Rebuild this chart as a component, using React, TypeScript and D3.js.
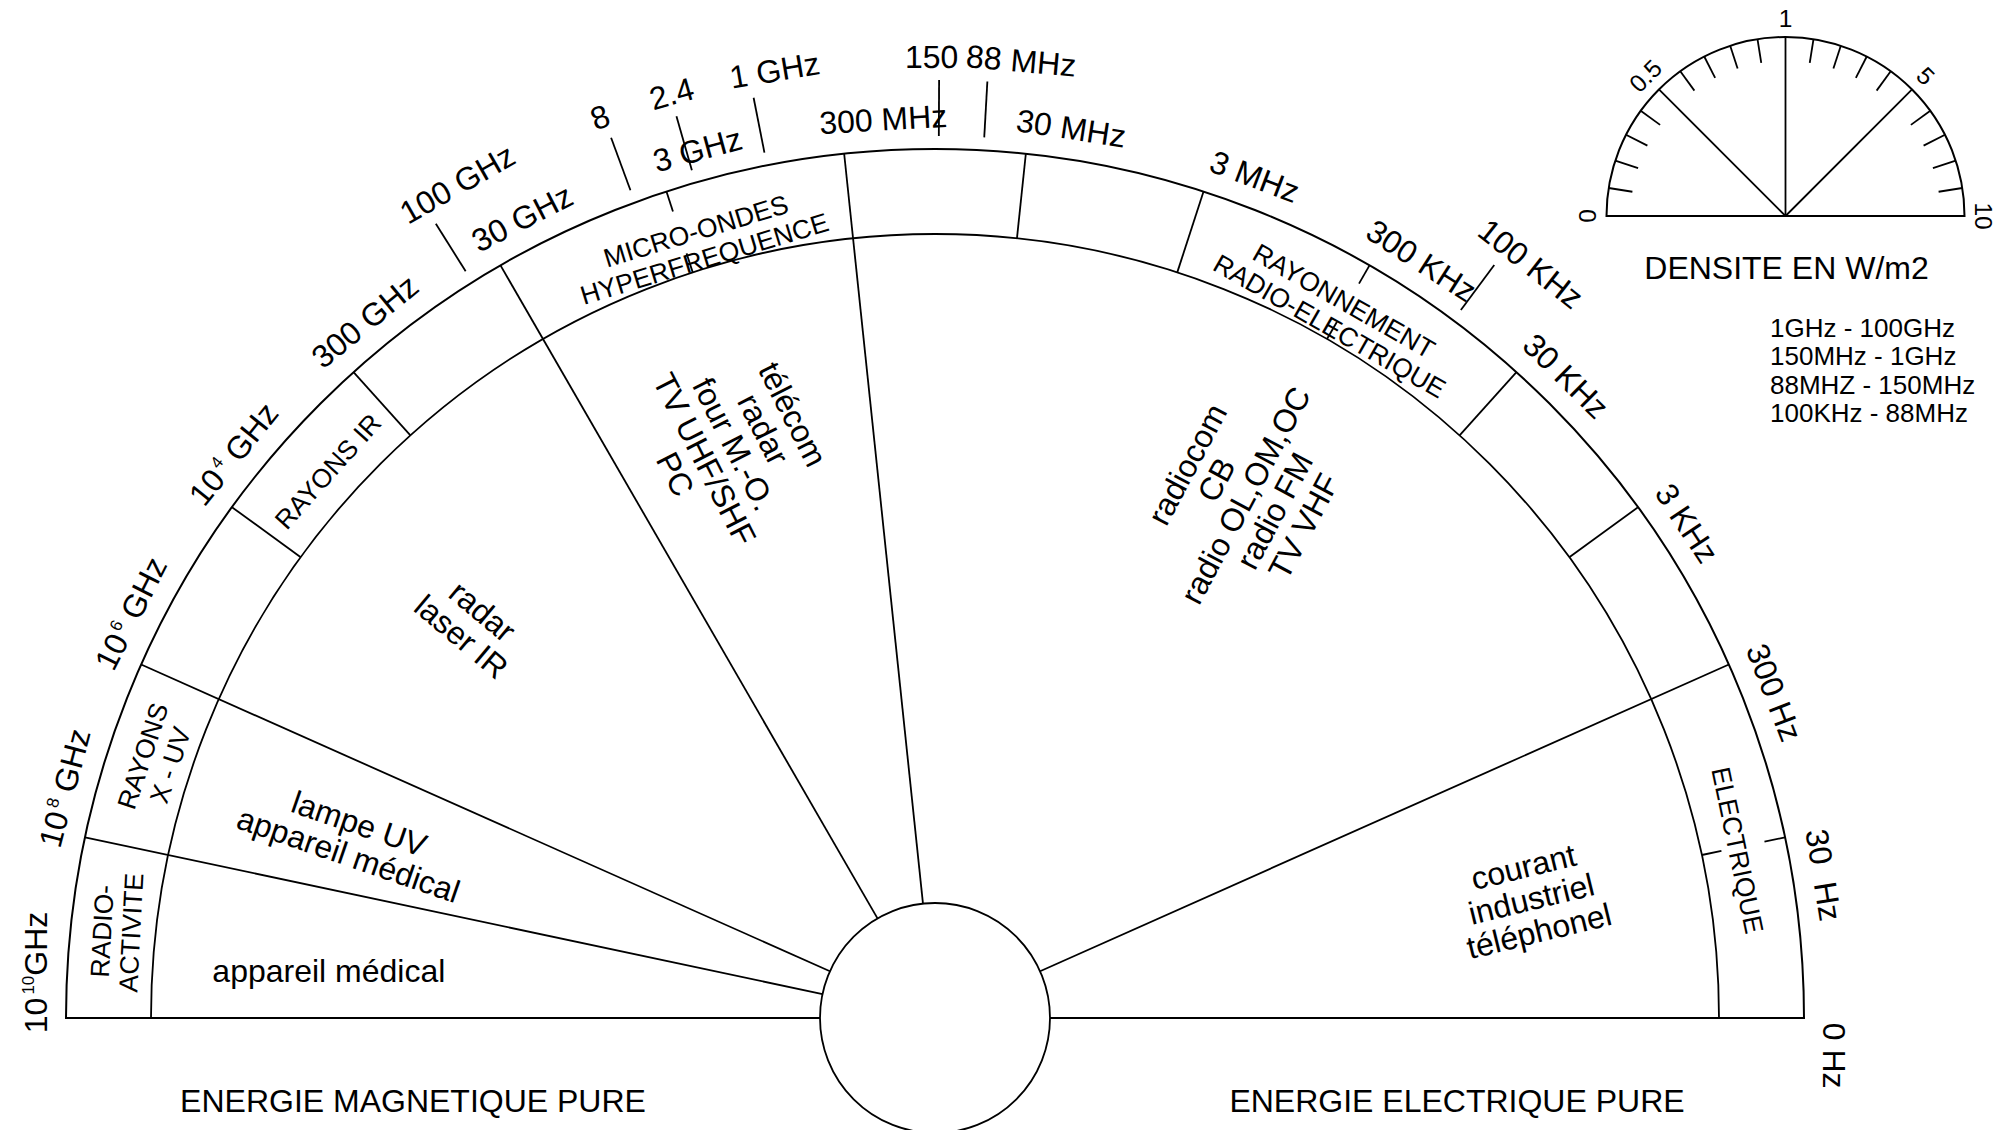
import React from "react";
import * as d3 from "d3";

// the dial runs from 0° (left end, 10^10 GHz) to 180° (right end, 0 Hz)
const stepCount = 15; // one step = 12°
const fullDividers = [1, 2, 5, 7, 13];
const bandDividers = [3, 4, 8, 9, 11, 12];
const bandTicks = [6, 10, 14];

// first row of frequency labels, angle on the dial
const freqLabels = [
	{ base: "10", sup: "10", unit: "GHz", at: 2.9 },
	{ base: "10", sup: "8", unit: " GHz", at: 14.8 },
	{ base: "10", sup: "6", unit: " GHz", at: 26.7 },
	{ base: "10", sup: "4", unit: " GHz", at: 38.8 },
	{ base: "300 GHz", at: 50.7 },
	{ base: "30 GHz", at: 62.7 },
	{ base: "3 GHz", at: 74.7 },
	{ base: "300 MHz", at: 86.7 },
	{ base: "30 MHz", at: 98.7 },
	{ base: "3 MHz", at: 110.8 },
	{ base: "300 KHz", at: 122.7 },
	{ base: "30 KHz", at: 134.5 },
	{ base: "3 KHz", at: 146.65 },
	{ base: "300 Hz", at: 158.8 },
	{ base: "30  Hz", at: 170.85 },
	{ base: "0 Hz", at: 182.4 },
];
const freqTilt: Record<number, number> = { 0: -90, 15: 90 };

// second row, with leader lines
const farLabels = [
	{ text: "100 GHz", at: 60.2, leader: 57.85 },
	{ text: "8", at: 69.6, leader: 69.8 },
	{ text: "2.4", at: 74.1, leader: 74.0 },
	{ text: "1 GHz", at: 80.4, leader: 78.85 },
	{ text: "150", at: 89.8, leader: 90.25 },
	{ text: "88 MHz", at: 95.15, leader: 93.2 },
	{ text: "100 KHz", at: 128.3, leader: 126.6 },
];

const bandLabels = [
	{ lines: ["RADIO-", "ACTIVITE"], at: 6.0 },
	{ lines: ["RAYONS", "X - UV"], at: 18.3 },
	{ lines: ["RAYONS IR"], at: 42.0 },
	{ lines: ["MICRO-ONDES", "HYPERFREQUENCE"], at: 73.1 },
	{ lines: ["RAYONNEMENT", "RADIO-ELECTRIQUE"], at: 119.7 },
	{ lines: ["ELECTRIQUE"], at: 168.2 },
];
const bandLabelR = [823, 820, 817, 808, 811, 820];
const bandTilt: Record<number, number> = { 0: -87 };

const useLabels = [
	{ lines: ["appareil médical"], at: 4.5 },
	{ lines: ["lampe UV", "appareil médical"], at: 17.1 },
	{ lines: ["radar", "laser IR"], at: 40.4 },
	{ lines: ["télécom", "radar", "four M.-O.", "TV UHF/SHF", "PC"], at: 70.7 },
	{ lines: ["radiocom", "CB", "radio OL,OM,OC", "radio FM", "TV VHF"], at: 120.7 },
	{ lines: ["courant", "industriel", "téléphonel"], at: 168.7 },
];
const useTilt = [0, 19, 40, 63, -62, -13.7];

const gaugeLabels = ["0", "0.5", "1", "5", "10"];
const gaugeTicksPerGap = 4;

const bandRanges = [
	"1GHz - 100GHz",
	"150MHz - 1GHz",
	"88MHZ - 150MHz",
	"100KHz - 88MHz",
];

const W = 2008;
const H = 1130;
const cx = 935;
const cy = 1018;
const rOuter = 869;
const rInner = 784;
const rHub = 115;
const font = "'Liberation Sans', Arial, Helvetica, sans-serif";

const angle = d3.scaleLinear().domain([0, 180]).range([-Math.PI / 2, Math.PI / 2]);
const step = d3.scaleLinear().domain([0, stepCount]).range([0, 180]);
const deg = (a: number) => (a * 180) / Math.PI;

const half = (r: number) =>
	d3.arc()({
		innerRadius: 0,
		outerRadius: r,
		startAngle: -Math.PI / 2,
		endAngle: Math.PI / 2,
	}) as string;

const Radial = ({ t, r0, r1, sw = 1.8 }: { t: number; r0: number; r1: number; sw?: number }) => {
	const [x1, y1] = d3.pointRadial(angle(t), r0);
	const [x2, y2] = d3.pointRadial(angle(t), r1);
	return <line x1={x1} y1={y1} x2={x2} y2={y2} stroke="#000" strokeWidth={sw} />;
};

const Block = ({
	x,
	y,
	rot,
	lines,
	size,
	lh,
}: {
	x: number;
	y: number;
	rot: number;
	lines: string[];
	size: number;
	lh: number;
}) => (
	<text
		transform={`translate(${x},${y}) rotate(${rot})`}
		fontSize={size}
		textAnchor="middle"
		style={{ whiteSpace: "pre" }}
	>
		{lines.map((l, i) => (
			<tspan key={i} x={0} y={(i - (lines.length - 1) / 2) * lh + size * 0.35}>
				{l}
			</tspan>
		))}
	</text>
);

const Gauge = () => {
	const gx = 1785.5;
	const gy = 216;
	const gr = 179;
	const n = (gaugeLabels.length - 1) * (gaugeTicksPerGap + 1);
	const ga = d3.scaleLinear().domain([0, n]).range([-Math.PI / 2, Math.PI / 2]);
	const major = d3.range(0, n + 1, gaugeTicksPerGap + 1);
	const minor = d3.range(0, n + 1).filter((i) => i % (gaugeTicksPerGap + 1) !== 0);
	return (
		<g transform={`translate(${gx},${gy})`}>
			<path d={half(gr)} fill="none" stroke="#000" strokeWidth={2} />
			{minor.map((i) => {
				const [x1, y1] = d3.pointRadial(ga(i), gr);
				const [x2, y2] = d3.pointRadial(ga(i), gr - 24);
				return <line key={i} x1={x1} y1={y1} x2={x2} y2={y2} stroke="#000" strokeWidth={1.8} />;
			})}
			{major.slice(1, -1).map((i) => {
				const [x2, y2] = d3.pointRadial(ga(i), gr);
				return <line key={i} x1={0} y1={0} x2={x2} y2={y2} stroke="#000" strokeWidth={1.8} />;
			})}
			{major.map((i, k) => {
				const [x, y] = d3.pointRadial(ga(i), gr + 19);
				return (
					<text
						key={i}
						transform={`translate(${x},${y}) rotate(${deg(ga(i))})`}
						fontSize={24.5}
						textAnchor="middle"
						dy={8.5}
					>
						{gaugeLabels[k]}
					</text>
				);
			})}
			<text x={1} y={63} fontSize={32} textAnchor="middle">
				DENSITE EN W/m2
			</text>
		</g>
	);
};

export default function App() {
	return (
		<svg
			width={W}
			height={H}
			style={{ position: "absolute", left: 0, top: 0, background: "#fff" }}
			fontFamily={font}
		>
			<g transform={`translate(${cx},${cy})`}>
				<path d={half(rOuter)} fill="none" stroke="#000" strokeWidth={2} />
				<path d={half(rInner)} fill="none" stroke="#000" strokeWidth={1.8} />
				{fullDividers.map((i) => (
					<Radial key={"f" + i} t={step(i)} r0={rHub} r1={rOuter} />
				))}
				{bandDividers.map((i) => (
					<Radial key={"b" + i} t={step(i)} r0={rInner} r1={rOuter} />
				))}
				{bandTicks.map((i) => (
					<g key={"t" + i}>
						<Radial t={step(i)} r0={rOuter - 21} r1={rOuter} />
						<Radial t={step(i)} r0={rInner} r1={rInner + 20} />
					</g>
				))}
				{farLabels.map((d) => (
					<Radial key={"l" + d.text} t={d.leader} r0={rOuter + 13} r1={rOuter + 69} />
				))}
				<circle r={rHub} fill="#fff" stroke="#000" strokeWidth={1.8} />

				{freqLabels.map((d, i) => {
					const [x, y] = d3.pointRadial(angle(d.at), 900);
					const rot = freqTilt[i] ?? deg(angle(d.at));
					return (
						<text
							key={i}
							transform={`translate(${x},${y}) rotate(${rot})`}
							fontSize={32}
							textAnchor="middle"
							dy={11}
							style={{ whiteSpace: "pre" }}
						>
							{d.base}
							{d.sup && (
								<tspan fontSize={17} dx={3} dy={-13}>
									{d.sup}
								</tspan>
							)}
							{d.sup && <tspan dy={13}>{d.unit}</tspan>}
						</text>
					);
				})}
				{farLabels.map((d) => {
					const [x, y] = d3.pointRadial(angle(d.at), 961);
					return (
						<text
							key={d.text}
							transform={`translate(${x},${y}) rotate(${deg(angle(d.at))})`}
							fontSize={32}
							textAnchor="middle"
							dy={11}
						>
							{d.text}
						</text>
					);
				})}
				{bandLabels.map((d, i) => {
					const [x, y] = d3.pointRadial(angle(d.at), bandLabelR[i]);
					return (
						<Block
							key={i}
							x={x}
							y={y}
							rot={bandTilt[i] ?? deg(angle(d.at))}
							lines={d.lines}
							size={26.5}
							lh={29}
						/>
					);
				})}
				{useLabels.map((d, i) => {
					const [x, y] = d3.pointRadial(angle(d.at), 608);
					return <Block key={i} x={x} y={y} rot={useTilt[i]} lines={d.lines} size={32} lh={33} />;
				})}
			</g>

			<text x={413} y={1112} fontSize={32} textAnchor="middle">
				ENERGIE MAGNETIQUE PURE
			</text>
			<text x={1457} y={1112} fontSize={32} textAnchor="middle">
				ENERGIE ELECTRIQUE PURE
			</text>

			<Gauge />

			{bandRanges.map((t, i) => (
				<text key={t} x={1770} y={337 + i * 28.3} fontSize={26}>
					{t}
				</text>
			))}
		</svg>
	);
}
